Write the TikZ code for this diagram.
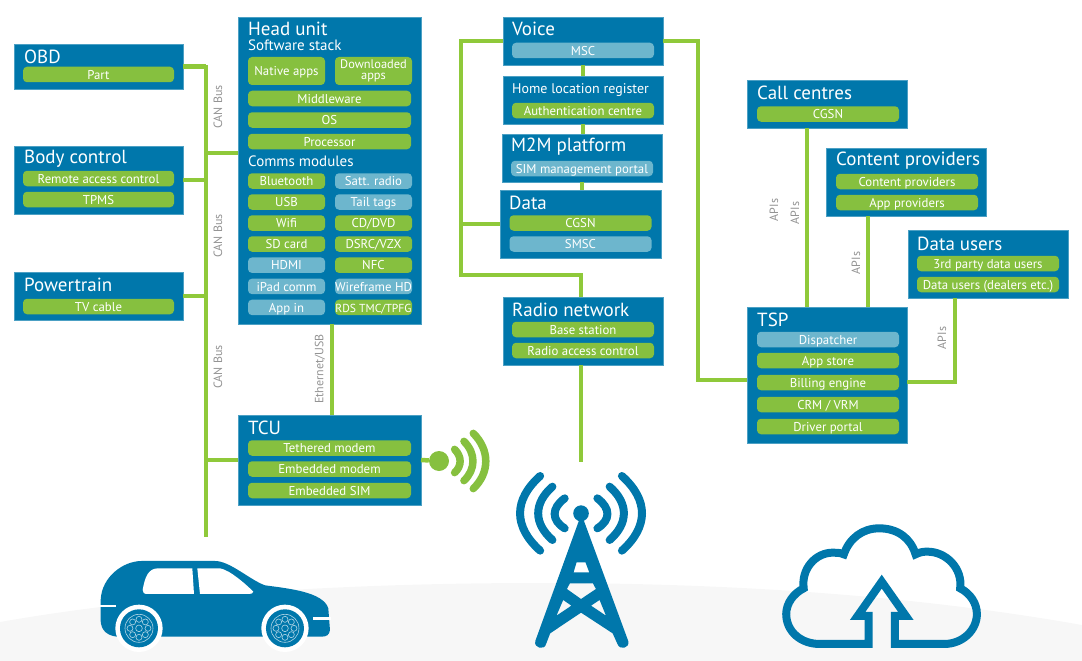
\documentclass[tikz,border=0pt]{standalone}
\usepackage{fontspec}
\setmainfont{PT Sans}
\usetikzlibrary{positioning}
\definecolor{panelblue}{HTML}{0077AB}
\definecolor{leaf}{HTML}{86C03F}
\definecolor{wire}{HTML}{8FC93A}
\definecolor{softblue}{HTML}{6DB6CD}
\definecolor{hill}{HTML}{F7F7F7}
\begin{document}
\begin{tikzpicture}[x=1pt,y=-1pt,
    panel/.style={fill=panelblue,draw=panelblue!70!white,line width=0.5pt,inner sep=0pt,outer sep=0pt},
    head/.style={anchor=west,text=white,inner sep=0pt,yshift=-1pt,font=\fontsize{19}{21}\selectfont},
    subhead/.style={anchor=west,text=white,inner sep=0pt,font=\fontsize{15}{16}\selectfont},
    pill/.style={fill=leaf,rounded corners=4pt,minimum height=15.5pt,inner sep=0pt,outer sep=0pt,text=white,
      text height=10.5pt,text depth=1pt,font=\fontsize{12.8}{13}\selectfont},
    soft/.style={pill,fill=softblue},
    wide/.style={minimum width=142pt},
    half/.style={minimum width=77pt},
    link/.style={draw=wire,line width=4.5pt,line join=miter},
    lbl/.style={rotate=90,text=gray!85,inner sep=0pt,font=\fontsize{12}{12}\selectfont},
    wave/.style={draw=leaf,line width=7.5pt,line cap=round},
    spark/.style={draw=panelblue,line width=8pt,line cap=round}]
  \useasboundingbox (0,0) rectangle (1082,661);
  \fill[hill] (0,622) .. controls (170,592) and (370,583) .. (540,583) .. controls (750,583) and (930,598) .. (1082,625) -- (1082,661) -- (0,661) -- cycle;

  % vehicle side
  \node[panel,minimum width=169pt,minimum height=45pt] (obd) at (98.5,66.5) {};
  \node[head] (obdt) at (24,56) {OBD};
  \node[pill,minimum width=151pt] (part) at (98.5,74.5) {Part};

  \node[panel,minimum width=169pt,minimum height=68pt] (body) at (98.5,180) {};
  \node[head] (bodyt) at (24,158) {Body control};
  \node[pill,minimum width=151pt] (rac) at (98.5,178.5) {Remote access control};
  \node[pill,minimum width=151pt,below=5.5pt of rac] (tpms) {TPMS};

  \node[panel,minimum width=169pt,minimum height=48pt] (power) at (98.5,296) {};
  \node[head] (powert) at (24,284) {Powertrain};
  \node[pill,minimum width=151pt] (tv) at (98.5,306.5) {TV cable};

  \node[panel,minimum width=183pt,minimum height=307pt] (hu) at (329.5,170.5) {};
  \node[head] (hut) at (248,28) {Head unit};
  \node[subhead] (stack) at (248,45) {Software stack};
  \node[pill,half,minimum height=28pt] (native) at (286.5,71) {Native apps};
  \node[pill,half,minimum height=28pt,text height=,text depth=,align=center,font=\fontsize{12.4}{11.5}\selectfont] (down) at (373.5,71) {Downloaded\\apps};
  \node[pill,minimum width=163pt] (mid) at (329.5,98.5) {Middleware};
  \node[pill,minimum width=163pt,below=6pt of mid] (os) {OS};
  \node[pill,minimum width=163pt,below=6pt of os] (proc) {Processor};
  \node[subhead] (comms) at (248,161) {Comms modules};
  \node[pill,half] (bt) at (286.5,181) {Bluetooth};
  \node[pill,half,below=5.5pt of bt] (usb) {USB};
  \node[pill,half,below=5.5pt of usb] (wifi) {Wifi};
  \node[pill,half,below=5.5pt of wifi] (sd) {SD card};
  \node[soft,half,below=5.7pt of sd] (hdmi) {HDMI};
  \node[soft,half,below=5.7pt of hdmi] (ipad) {iPad comm};
  \node[soft,half,below=5.5pt of ipad] (appin) {App in};
  \node[soft,half] (satt) at (373.5,181) {Satt. radio};
  \node[soft,half,below=5.5pt of satt] (tail) {Tail tags};
  \node[pill,half,below=5.5pt of tail] (cd) {CD/DVD};
  \node[pill,half,below=5.5pt of cd] (dsrc) {DSRC/VZX};
  \node[pill,half,below=5.7pt of dsrc] (nfc) {NFC};
  \node[soft,half,below=5.7pt of nfc] (wirehd) {Wireframe HD};
  \node[pill,half,below=5.5pt of wirehd,font=\fontsize{11.6}{13}\selectfont] (rds) {RDS TMC/TPFG};

  \node[panel,minimum width=183pt,minimum height=90pt] (tcu) at (329.5,460) {};
  \node[head] (tcut) at (248,427) {TCU};
  \node[pill,minimum width=163pt] (teth) at (329.5,448) {Tethered modem};
  \node[pill,minimum width=163pt,below=5.5pt of teth] (emod) {Embedded modem};
  \node[pill,minimum width=163pt,below=6pt of emod] (esim) {Embedded SIM};
  \node[circle,fill=leaf,minimum size=20pt,inner sep=0pt] (dot) at (439,461) {};

  % network side
  \node[panel,minimum width=160pt,minimum height=48pt] (voice) at (583,41) {};
  \node[head] (voicet) at (512,28) {Voice};
  \node[soft,wide] (msc) at (583,50.5) {MSC};

  \node[panel,minimum width=160pt,minimum height=48pt] (hlr) at (583,100) {};
  \node[subhead,font=\fontsize{14}{15}\selectfont] (hlrt) at (512,90) {Home location register};
  \node[pill,wide] (auth) at (583,110.5) {Authentication centre};

  \node[panel,minimum width=160pt,minimum height=48pt] (m2m) at (582,158) {};
  \node[head] (m2mt) at (511,146) {M2M platform};
  \node[soft,wide] (sim) at (582,168.5) {SIM management portal};

  \node[panel,minimum width=161pt,minimum height=68pt] (data) at (580.5,224) {};
  \node[head] (datat) at (509,202) {Data};
  \node[pill,wide] (cgsn) at (580.5,223) {CGSN};
  \node[soft,wide,below=5.5pt of cgsn] (smsc) {SMSC};

  \node[panel,minimum width=160pt,minimum height=68pt] (radio) at (583,331) {};
  \node[head] (radiot) at (512,309) {Radio network};
  \node[pill,wide] (base) at (583,329.5) {Base station};
  \node[pill,wide,below=5.5pt of base] (rac2) {Radio access control};

  % services
  \node[panel,minimum width=160pt,minimum height=48pt] (call) at (827,104) {};
  \node[head] (callt) at (757,92) {Call centres};
  \node[pill,wide] (cgsn2) at (828,114) {CGSN};

  \node[panel,minimum width=160pt,minimum height=68pt] (content) at (906,182) {};
  \node[head] (contentt) at (836,160) {Content providers};
  \node[pill,wide] (cp) at (907,181.5) {Content providers};
  \node[pill,wide,below=5.5pt of cp] (app) {App providers};

  \node[panel,minimum width=160pt,minimum height=68pt] (users) at (988,264) {};
  \node[head] (userst) at (917,243) {Data users};
  \node[pill,wide] (third) at (988,263.5) {3rd party data users};
  \node[pill,wide,below=5.5pt of third] (dealers) {Data users (dealers etc.)};

  \node[panel,minimum width=160pt,minimum height=136pt] (tsp) at (827,375) {};
  \node[head] (tspt) at (757,319) {TSP};
  \node[soft,wide] (disp) at (828,339.5) {Dispatcher};
  \node[pill,wide,below=5.5pt of disp] (store) {App store};
  \node[pill,wide,below=6.5pt of store] (bill) {Billing engine};
  \node[pill,wide,below=6.5pt of bill] (crm) {CRM / VRM};
  \node[pill,wide,below=6.5pt of crm] (driver) {Driver portal};

  % connectors
  \coordinate (bustop) at (206,65);
  \coordinate (busend) at (206,537);
  \coordinate (huin) at (238,153);
  \coordinate (loop) at (461,41);
  \coordinate (loopend) at (461,275);
  \coordinate (mast) at (581,462);
  \coordinate (voicebus) at (698,41);
  \coordinate (tspin) at (747,380);
  \coordinate (tspout) at (907,382);
  \coordinate (usersin) at (955,298);
  \draw[link] (bustop) -- (busend);
  \draw[link] (obd.east) -- (obd.east -| bustop);
  \draw[link] (body.east) -- (body.east -| bustop);
  \draw[link] (power.east) -- (power.east -| bustop);
  \draw[link] (huin -| bustop) -- (huin);
  \draw[link] (tcu.west -| bustop) -- (tcu.west);
  \draw[link] (hu.south -| 332,0) -- (tcu.north -| 332,0);
  \draw[link] (tcu.east) -- (dot);
  \draw[link] (voice.south -| hlr) -- (hlr.north);
  \draw[link] (hlr.south) -- (hlr.south |- m2m.north);
  \draw[link] (m2m.south) -- (m2m.south |- data.north);
  \draw[link] (voice.west) -- (loop) -- (loopend) -| (mast |- radio.north);
  \draw[link] (data.west) -- (data.west -| loop);
  \draw[link] (radio.south -| mast) -- (mast);
  \draw[link] (voice.east) -- (voicebus) |- (tspin);
  \draw[link] (call.south -| 807,0) -- (tsp.north -| 807,0);
  \draw[link] (content.south -| 868,0) -- (tsp.north -| 868,0);
  \draw[link] (usersin) |- (tspout);

  \node[lbl] (can1) at (218,107) {CAN Bus};
  \node[lbl] (can2) at (218,236) {CAN Bus};
  \node[lbl] (can3) at (218,367) {CAN Bus};
  \node[lbl] (eth) at (320,369) {Ethernet/USB};
  \node[lbl] (api1) at (774,210) {APIs};
  \node[lbl] (api2) at (795,213) {APIs};
  \node[lbl] (api3) at (856,263) {APIs};
  \node[lbl] (api4) at (942,338) {APIs};

  % signal from the TCU
  \begin{scope}[shift={(60,400)},x=0.3333pt,y=-0.3333pt]
    \draw[wave] (1184,148) .. controls (1206,170) and (1206,198) .. (1184,218);
    \draw[wave] (1212,124) .. controls (1248,160) and (1248,208) .. (1212,242);
    \draw[wave] (1240,100) .. controls (1290,150) and (1290,218) .. (1240,266);
  \end{scope}

  % car
  \begin{scope}[shift={(60,400)},x=0.3333pt,y=-0.3333pt]
    \fill[panelblue] (122,650) -- (122,600) .. controls (125,530) and (190,483) .. (245,483) -- (465,483)
      .. controls (510,483) and (570,540) .. (615,556) .. controls (680,565) and (790,575) .. (805,625)
      -- (810,690) .. controls (808,705) and (800,710) .. (785,710) -- (170,710) .. controls (130,705) and (120,680) .. (122,650) -- cycle;
    \fill[white] (248,570) .. controls (255,530) and (265,505) .. (295,505) -- (397,505) -- (402,582) -- (262,582) .. controls (252,582) and (248,578) .. (248,570) -- cycle;
    \fill[white] (412,505) -- (480,505) .. controls (510,510) and (560,555) .. (580,575) .. controls (578,580) and (575,582) .. (568,582) -- (420,582) -- cycle;
    \draw[white,line width=2.5pt] (118,618) -- (168,618);
    \draw[white,line width=2.5pt] (760,655) -- (812,655);
    \foreach \wheelx in {237,675}{
      \fill[white] (\wheelx,685) circle (71);
      \fill[panelblue] (\wheelx,685) circle (57);
      \draw[white!70!panelblue,line width=0.6pt] (\wheelx,685) circle (42) (\wheelx,685) circle (10);
      \foreach \ang in {0,45,...,315}
        \draw[white!70!panelblue,line width=0.6pt] (\wheelx,685) ++(\ang:27) circle (9);
    }
  \end{scope}

  % mast
  \begin{scope}[shift={(500,440)},x=0.3717pt,y=-0.3333pt]
    \fill[panelblue,even odd rule] (213,240) -- (95,603) .. controls (90,625) and (120,632) .. (124,612) -- (135,580) -- (218,518) -- (303,580) -- (316,612) .. controls (322,632) and (350,625) .. (345,603) -- (225,240) -- cycle
      (206,367) -- (230,367) -- (240,397) -- (198,397) -- cycle
      (188,430) -- (250,430) -- (258,447) -- (218,477) -- (180,447) -- cycle
      (170,480) -- (192,497) -- (152,527) -- cycle
      (268,480) -- (245,497) -- (285,527) -- cycle;
    \fill[panelblue] (218,220) ellipse (21 and 24);
    \foreach \flip in {1,-1}{
      \begin{scope}[shift={(218,0)},xscale=\flip]
        \draw[spark] (44,175) .. controls (80,205) and (80,240) .. (44,265);
        \draw[spark] (77,140) .. controls (128,190) and (128,250) .. (77,300);
        \draw[spark] (110,108) .. controls (182,180) and (182,260) .. (110,332);
      \end{scope}
    }
  \end{scope}

  % cloud
  \begin{scope}[shift={(500,440)},x=0.3717pt,y=-0.3333pt]
    \draw[draw=panelblue,line width=8pt,line join=miter,miter limit=8] (992,528) -- (962,528) -- (1027,425) -- (1092,528) -- (1062,528) -- (1062,612) -- (1195,612)
      .. controls (1245,612) and (1283,570) .. (1283,522) .. controls (1283,490) and (1265,460) .. (1238,445)
      .. controls (1245,385) and (1200,335) .. (1150,335) .. controls (1140,335) and (1130,336) .. (1118,343)
      .. controls (1105,295) and (1070,265) .. (1020,265) .. controls (975,265) and (940,295) .. (925,343)
      .. controls (915,338) and (905,338) .. (895,338) .. controls (850,338) and (810,385) .. (817,445)
      .. controls (790,460) and (770,490) .. (770,522) .. controls (770,575) and (810,612) .. (860,612) -- (992,612) -- cycle;
  \end{scope}
\end{tikzpicture}
\end{document}
